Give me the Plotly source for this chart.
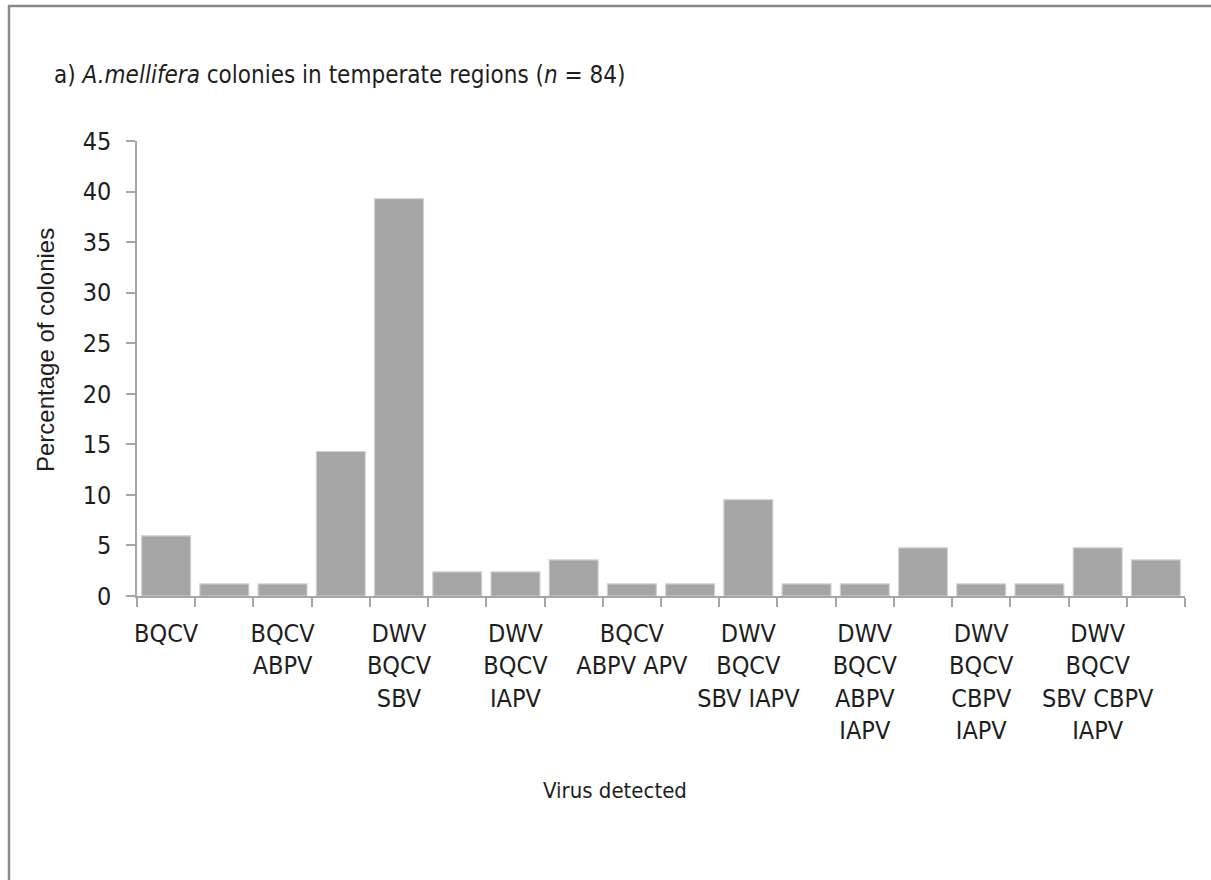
import plotly.graph_objects as go

# ---- data ----
category_index = list(range(1, 19))
percentages = [5.95, 1.19, 1.19, 14.29, 39.29, 2.38, 2.38, 3.57, 1.19, 1.19,
               9.52, 1.19, 1.19, 4.76, 1.19, 1.19, 4.76, 3.57]
label_positions = [1, 3, 5, 7, 9, 11, 13, 15, 17]
tick_labels = [
    "BQCV",
    "BQCV<br>ABPV",
    "DWV<br>BQCV<br>SBV",
    "DWV<br>BQCV<br>IAPV",
    "BQCV<br>ABPV APV",
    "DWV<br>BQCV<br>SBV IAPV",
    "DWV<br>BQCV<br>ABPV<br>IAPV",
    "DWV<br>BQCV<br>CBPV<br>IAPV",
    "DWV<br>BQCV<br>SBV CBPV<br>IAPV",
]
boundaries = [i + 0.5 for i in range(0, 19)]
y_ticks = [0, 5, 10, 15, 20, 25, 30, 35, 40, 45]

W, H = 1211, 880
ML, MR, MT, MB = 137, 26, 141, 284
PW = W - ML - MR
PH = H - MT - MB


def px(x):
    return (x - ML) / PW


def py(y):
    return (H - MB - y) / PH


NARROW = "DejaVu Sans Condensed, Arial Narrow, Arial"
REG = "Liberation Sans, Arial"
TXT = "#1e1e1e"
AX = "#a6a6a6"

fig = go.Figure(go.Bar(
    x=category_index,
    y=percentages,
    marker=dict(color="#a5a5a5", line=dict(color="#d0d0d0", width=1.2)),
    hoverinfo="x+y",
))

fig.update_layout(
    width=W, height=H,
    margin=dict(l=ML, r=MR, t=MT, b=MB),
    paper_bgcolor="white",
    plot_bgcolor="white",
    bargap=0.16,
    showlegend=False,
    font=dict(family=NARROW, size=25, color=TXT),
    xaxis=dict(
        range=[0.5, 18.5],
        tickmode="array",
        tickvals=label_positions,
        ticktext=tick_labels,
        ticks="",
        showgrid=False,
        zeroline=False,
        showline=True,
        linecolor=AX,
        linewidth=1.5,
        tickfont=dict(family=NARROW, size=25, color=TXT),
        minor=dict(tickvals=boundaries, ticks="outside", ticklen=9,
                   tickcolor=AX, tickwidth=1.5, showgrid=False),
        ticklabelstandoff=14,
    ),
    yaxis=dict(
        range=[0, 45],
        tickmode="array",
        tickvals=y_ticks,
        ticks="outside",
        ticklen=9,
        tickcolor=AX,
        tickwidth=1.5,
        showgrid=False,
        zeroline=False,
        showline=True,
        linecolor=AX,
        linewidth=1.5,
        tickfont=dict(family=NARROW, size=25, color=TXT),
        ticklabelstandoff=10,
    ),
)

annotations = [
    dict(text="a) <i>A.mellifera</i> colonies in temperate regions (<i>n</i> = 84)",
         x=px(52), y=py(75), xref="paper", yref="paper",
         xanchor="left", yanchor="middle", showarrow=False,
         font=dict(family=NARROW, size=24, color=TXT)),
    dict(text="Percentage of colonies",
         x=px(45), y=py(350), xref="paper", yref="paper",
         xanchor="center", yanchor="middle", textangle=-90, showarrow=False,
         font=dict(family=REG, size=24, color=TXT)),
    dict(text="Virus detected",
         x=px(615), y=py(790), xref="paper", yref="paper",
         xanchor="center", yanchor="middle", showarrow=False,
         font=dict(family=NARROW, size=22, color=TXT)),
]
fig.update_layout(annotations=annotations)

border = "#8a8a8a"
fig.add_shape(type="line", xref="paper", yref="paper",
              x0=px(8), x1=px(W + 5), y0=py(6), y1=py(6),
              line=dict(color=border, width=2.5))
fig.add_shape(type="line", xref="paper", yref="paper",
              x0=px(9), x1=px(9), y0=py(5), y1=py(H + 5),
              line=dict(color=border, width=2.5))

fig.write_html("out.html",
               config={"displayModeBar": False},
               post_script="document.body.style.margin='0';document.body.style.padding='0';")
